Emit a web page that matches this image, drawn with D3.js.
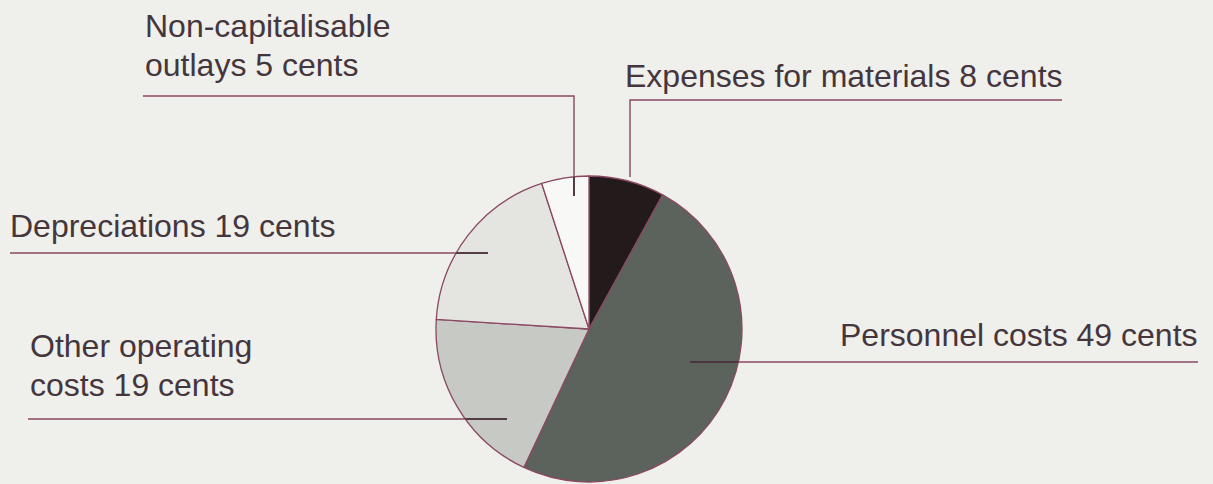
<!DOCTYPE html>
<html>
<head>
<meta charset="utf-8">
<style>
  html, body { margin: 0; padding: 0; background: #efefec; }
  svg { display: block; }
  .label { font-family: "Liberation Sans", Arial, sans-serif; font-size: 32px; fill: #45363d; }
</style>
</head>
<body>
<svg id="chart"></svg>

<script src="https://d3js.org/d3.v7.min.js"></script>
<script>
  // cost shares, in cents per euro
  const categories = ['Expenses for materials', 'Personnel costs', 'Other operating costs', 'Depreciations', 'Non-capitalisable outlays'];
  const values = [8, 49, 19, 19, 5];
  const labelLines = [
      ['Expenses for materials 8 cents'],
      ['Personnel costs 49 cents'],
      ['Other operating', 'costs 19 cents'],
      ['Depreciations 19 cents'],
      ['Non-capitalisable', 'outlays 5 cents']
  ];

  const sliceColors = ['#221a1b', '#5b635c', '#c7c9c4', '#e4e5e1', '#f8f8f6'];
  const lineColor = '#8a4862';

  const width = 1213, height = 484;
  const cx = 589, cy = 329, radius = 153;

  // where each label sits and how its leader runs
  const layout = [
      { x: 625, y: 87, line: [[1062, 100], [630, 100], [630, 177]] },
      { x: 840, y: 346, line: [[1198, 362], [690, 362]] },
      { x: 30, y: 357, line: [[28, 419], [507, 419]] },
      { x: 10, y: 237, line: [[10, 253], [488, 253]] },
      { x: 145, y: 37, line: [[143, 96], [574, 96], [574, 196]] }
  ];
  const lineGap = 39;

  const svg = d3.select('#chart')
      .attr('width', width)
      .attr('height', height);

  const pie = d3.pie().sort(null).startAngle(0).endAngle(2 * Math.PI);
  const arc = d3.arc().innerRadius(0).outerRadius(radius);
  const arcs = pie(values);

  const g = svg.append('g').attr('transform', `translate(${cx},${cy})`);

  g.selectAll('path.slice')
      .data(arcs)
      .enter()
      .append('path')
      .attr('class', 'slice')
      .attr('d', arc)
      .attr('fill', (d, i) => sliceColors[i])
      .attr('stroke', lineColor)
      .attr('stroke-width', 1.3)
      .attr('stroke-linejoin', 'round');

  // clip for the part of the leaders that runs over the pie
  svg.append('clipPath').attr('id', 'pieClip')
      .append('circle').attr('cx', cx).attr('cy', cy).attr('r', radius);

  const leader = d3.line();

  svg.selectAll('path.leader')
      .data(layout)
      .enter()
      .append('path')
      .attr('class', 'leader')
      .attr('d', d => leader(d.line))
      .attr('fill', 'none')
      .attr('stroke', lineColor)
      .attr('stroke-width', 1.4);

  svg.append('g').attr('clip-path', 'url(#pieClip)')
      .selectAll('path')
      .data(layout)
      .enter()
      .append('path')
      .attr('d', d => leader(d.line))
      .attr('fill', 'none')
      .attr('stroke', '#3b2c33')
      .attr('stroke-width', 1.6);

  // labels
  const labels = svg.selectAll('text.label')
      .data(categories)
      .enter()
      .append('text')
      .attr('class', 'label')
      .attr('x', (d, i) => layout[i].x)
      .attr('y', (d, i) => layout[i].y);

  labels.selectAll('tspan')
      .data((d, i) => labelLines[i].map(t => ({ t, x: layout[i].x })))
      .enter()
      .append('tspan')
      .attr('x', d => d.x)
      .attr('dy', (d, j) => j === 0 ? 0 : lineGap)
      .text(d => d.t);
</script>
</body>
</html>
